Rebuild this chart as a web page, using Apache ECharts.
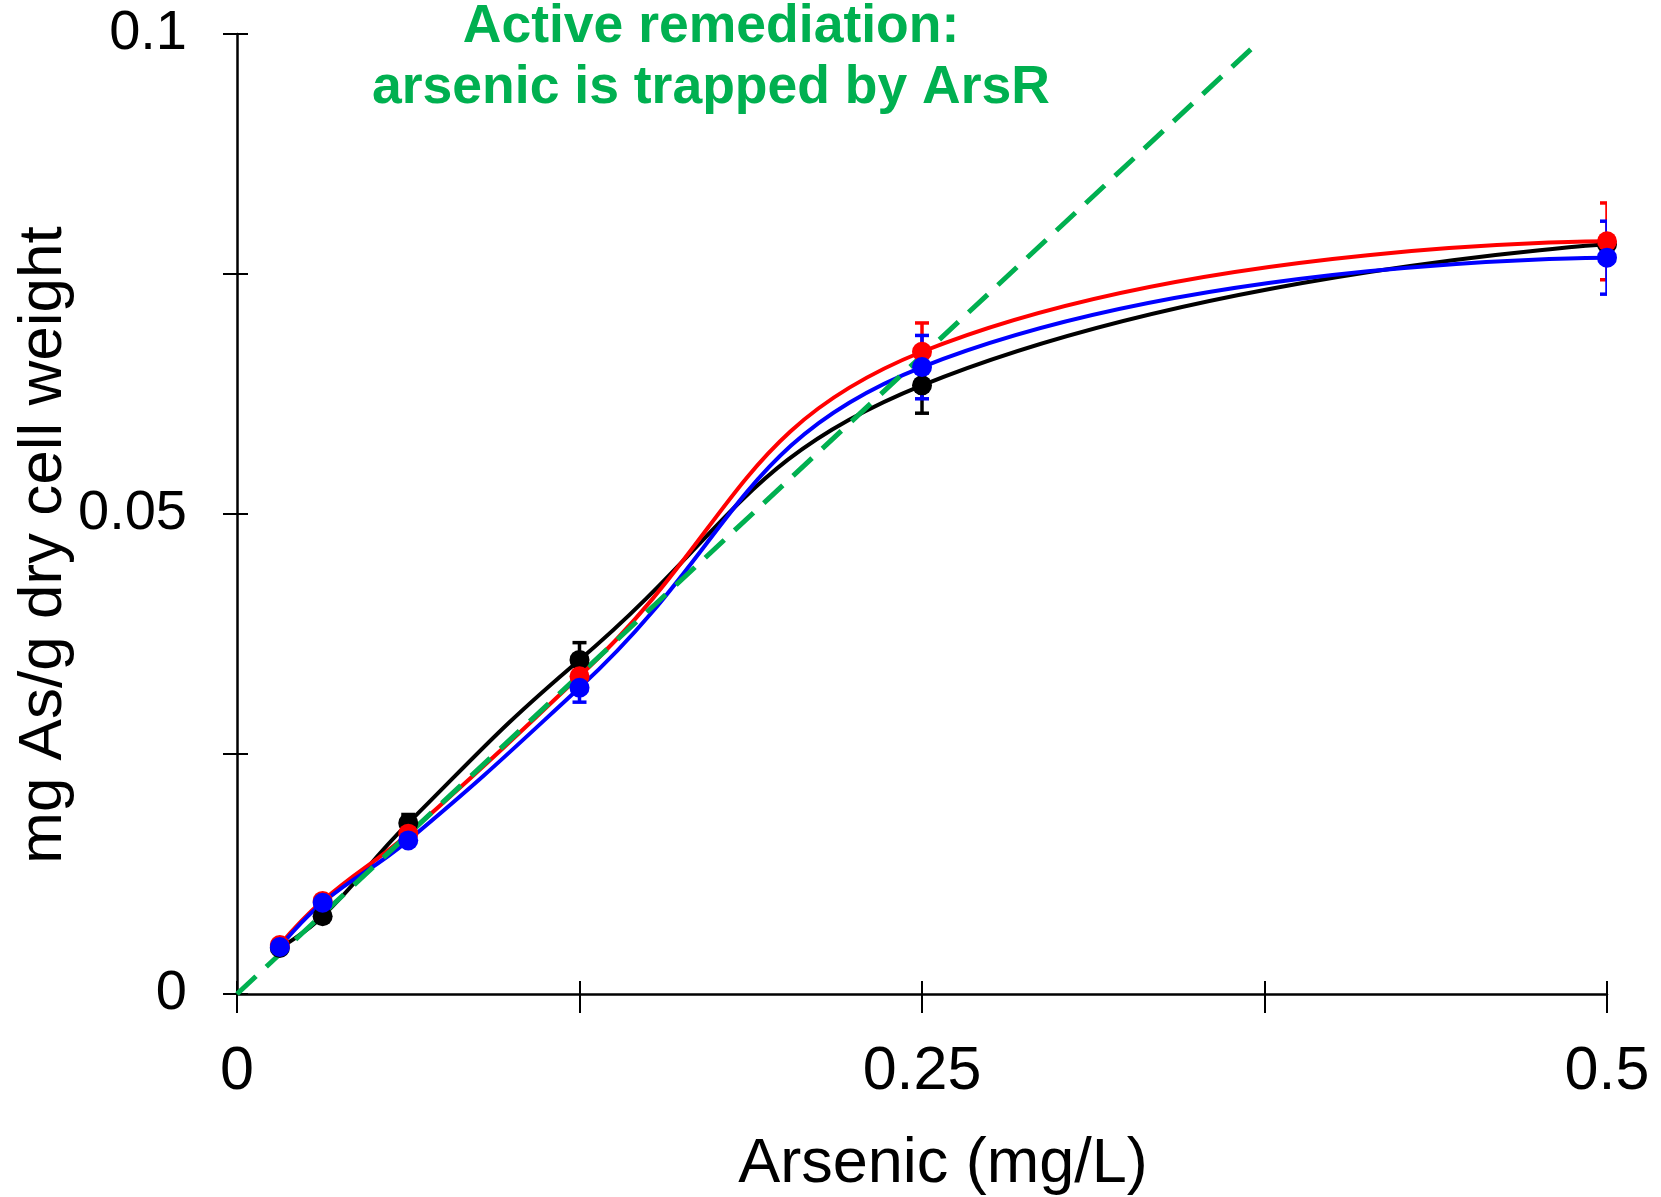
<!DOCTYPE html>
<html><head><meta charset="utf-8">
<script src="https://cdn.jsdelivr.net/npm/echarts@6/dist/echarts.min.js"></script>
<style>html,body{margin:0;padding:0;background:#fff}#c{width:1661px;height:1197px}</style>
</head><body><div id="c"></div>
<script>
// ---- data ----
const concentrations = [0.015625, 0.03125, 0.0625, 0.125, 0.25, 0.5];
const seriesBlack = [0.0048, 0.0081, 0.0178, 0.0348, 0.0634, 0.0781];
const seriesRed   = [0.0051, 0.0097, 0.0167, 0.0331, 0.0669, 0.0784];
const seriesBlue  = [0.0049, 0.0095, 0.0160, 0.0319, 0.0653, 0.0767];
const errBlack = [0.0004, 0.0004, 0.0009, 0.0018, 0.0029, 0.0008];
const errRed   = [0.0004, 0.0004, 0.0005, 0.0010, 0.0030, 0.0040];
const errBlue  = [0.0004, 0.0004, 0.0005, 0.0015, 0.0033, 0.0038];
const trendLine = [[0, 0], [0.37, 0.0984]];
const xTickLabels = ['0', '', '0.25', '', '0.5'];
const yTickLabels = ['0', '', '0.05', '', '0.1'];
const titleLines = ['Active remediation:', 'arsenic is trapped by ArsR'];
const xTitle = 'Arsenic (mg/L)';
const yTitle = 'mg As/g dry cell weight';

const FONT = '"Liberation Sans", Arial, Helvetica, sans-serif';

function lineSeries(name, color, values) {
  return {
    type: 'line', name: name, smooth: 0.45,
    data: concentrations.map((x, i) => [x, values[i]]),
    symbol: 'circle', symbolSize: 20, showSymbol: true,
    lineStyle: { color: color, width: 4 },
    itemStyle: { color: color },
    emphasis: { disabled: true }
  };
}
function errorSeries(name, color, values, errs) {
  return {
    type: 'custom', name: name + ' error', clip: true,
    data: concentrations.map((x, i) => [x, values[i] - errs[i], values[i] + errs[i]]),
    encode: { x: 0, y: [1, 2] },
    renderItem: function (params, api) {
      const x = api.value(0);
      const lo = api.coord([x, api.value(1)]);
      const hi = api.coord([x, api.value(2)]);
      const w = 7;
      const st = { stroke: color, lineWidth: 3.5 };
      return { type: 'group', children: [
        { type: 'line', shape: { x1: lo[0], y1: lo[1], x2: hi[0], y2: hi[1] }, style: st },
        { type: 'line', shape: { x1: hi[0] - w, y1: hi[1], x2: hi[0] + w, y2: hi[1] }, style: st },
        { type: 'line', shape: { x1: lo[0] - w, y1: lo[1], x2: lo[0] + w, y2: lo[1] }, style: st }
      ]};
    }
  };
}

const chart = echarts.init(document.getElementById('c'), null, { renderer: 'canvas' });
const axisCommon = { type: 'value', splitLine: { show: false } };
chart.setOption({
  animation: false,
  backgroundColor: '#ffffff',
  textStyle: { fontFamily: FONT },
  grid: { left: 237, right: 54, top: 34, bottom: 203, containLabel: false, outerBoundsMode: 'none' },
  xAxis: [
    Object.assign({}, axisCommon, {
      min: 0, max: 0.5, interval: 0.125, position: 'bottom',
      axisLine: { show: true, lineStyle: { color: '#000', width: 2.5 } },
      axisTick: { show: true, inside: false, length: 19, lineStyle: { color: '#000', width: 2 } },
      axisLabel: { show: true, color: '#000', fontSize: 61, fontFamily: FONT, margin: 48,
        formatter: (v, i) => xTickLabels[i] },
      name: xTitle, nameLocation: 'middle', nameGap: 139,
      nameTextStyle: { color: '#000', fontSize: 63, fontFamily: FONT, padding: [0, 0, 0, 42] }
    }),
    Object.assign({}, axisCommon, {
      min: 0, max: 0.5, interval: 0.125, position: 'bottom',
      axisLine: { show: false },
      axisTick: { show: true, inside: true, length: 13, lineStyle: { color: '#000', width: 2 } },
      axisLabel: { show: false }
    })
  ],
  yAxis: [
    Object.assign({}, axisCommon, {
      min: 0, max: 0.1, interval: 0.025, position: 'left',
      axisLine: { show: true, lineStyle: { color: '#000', width: 2.5 } },
      axisTick: { show: true, inside: false, length: 14, lineStyle: { color: '#000', width: 2 } },
      axisLabel: { show: true, color: '#000', fontSize: 56, fontFamily: FONT, margin: 50,
        formatter: (v, i) => yTickLabels[i] }
    }),
    Object.assign({}, axisCommon, {
      min: 0, max: 0.1, interval: 0.025, position: 'left',
      axisLine: { show: false },
      axisTick: { show: true, inside: true, length: 11, lineStyle: { color: '#000', width: 2 } },
      axisLabel: { show: false }
    })
  ],
  graphic: [
    { type: 'text', x: 711, y: 57.5, silent: true,
      style: { text: titleLines.join('\n'), fill: '#00b050', font: 'bold 53.5px ' + FONT,
        lineHeight: 61, textAlign: 'center', textVerticalAlign: 'middle' } },
    { type: 'text', x: 44, y: 545, rotation: Math.PI / 2, silent: true,
      style: { text: yTitle, fill: '#000', font: '62px ' + FONT,
        textAlign: 'center', textVerticalAlign: 'middle' } }
  ],
  series: [
    errorSeries('Black', '#000000', seriesBlack, errBlack),
    lineSeries('Black', '#000000', seriesBlack),
    errorSeries('Red', '#ff0000', seriesRed, errRed),
    lineSeries('Red', '#ff0000', seriesRed),
    errorSeries('Blue', '#0000ff', seriesBlue, errBlue),
    lineSeries('Blue', '#0000ff', seriesBlue),
    { type: 'line', name: 'Trend', data: trendLine, symbol: 'none', smooth: false,
      lineStyle: { color: '#00b050', width: 5, type: [26, 14] }, emphasis: { disabled: true } }
  ]
});
</script></body></html>
